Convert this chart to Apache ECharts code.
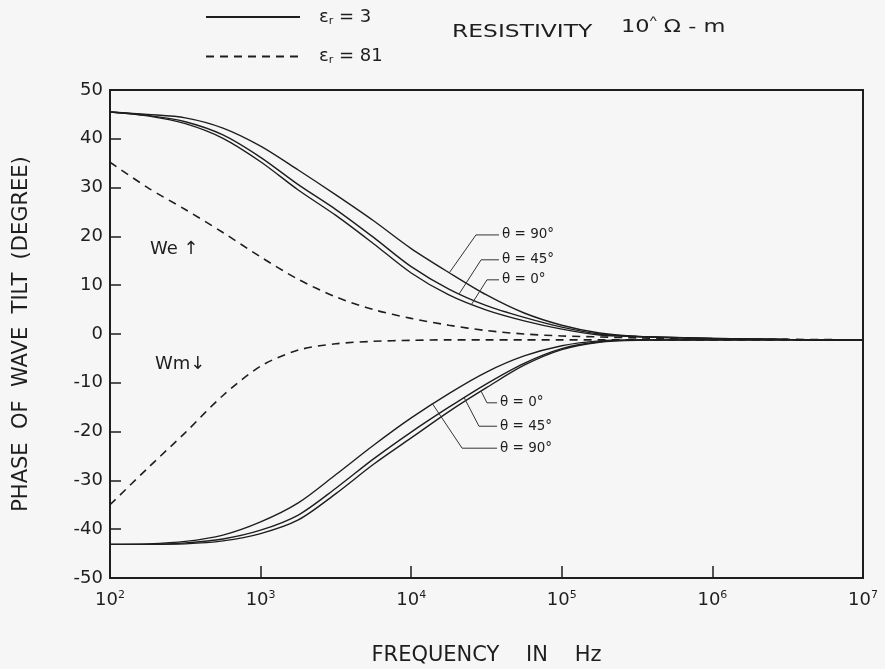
<!DOCTYPE html>
<html>
<head>
<meta charset="utf-8">
<script src="https://cdn.jsdelivr.net/npm/echarts@6/dist/echarts.min.js"></script>
<style>
html,body{margin:0;padding:0;background:#f6f6f6;}
#chart{width:885px;height:669px;}
</style>
</head>
<body>
<div id="chart"></div>
<script>
// frequency grid as log10(Hz)
const logF = [2.0, 2.25, 2.5, 2.75, 3.0, 3.25, 3.5, 3.75, 4.0, 4.25, 4.5, 4.75, 5.0, 5.25, 5.5, 6.0, 6.5, 7.0];
// eps_r = 3, W_e (upper bundle)
const up90 = [45.5, 45.0, 44.3, 42.2, 38.5, 33.6, 28.5, 23.2, 17.5, 12.6, 8.0, 4.3, 1.8, 0.2, -0.5, -0.9, -1.1, -1.2];
const up45 = [45.5, 44.8, 43.5, 40.8, 36.2, 30.6, 25.5, 19.8, 13.8, 9.2, 5.8, 3.4, 1.4, 0.0, -0.5, -0.9, -1.1, -1.2];
const up0  = [45.5, 44.7, 43.1, 40.1, 35.3, 29.5, 24.3, 18.5, 12.5, 8.0, 4.9, 2.7, 1.0, -0.2, -0.5, -0.9, -1.1, -1.2];
// eps_r = 3, W_m (lower bundle)
const lo90 = [-43.1, -43.0, -42.5, -41.2, -38.5, -34.6, -28.8, -22.8, -17.2, -12.2, -7.8, -4.5, -2.4, -1.4, -1.2, -1.2, -1.2, -1.3];
const lo45 = [-43.1, -43.1, -42.8, -42.0, -40.2, -37.1, -31.6, -25.6, -20.1, -15.0, -10.2, -6.0, -3.0, -1.6, -1.2, -1.2, -1.2, -1.3];
const lo0  = [-43.1, -43.1, -43.0, -42.4, -40.9, -38.1, -32.7, -26.7, -21.3, -15.9, -11.0, -6.4, -3.2, -1.7, -1.3, -1.2, -1.2, -1.3];
// eps_r = 81
const upDash = [35.2, 30.0, 25.5, 20.8, 15.8, 11.2, 7.6, 5.0, 3.2, 1.8, 0.7, 0.0, -0.4, -0.6, -0.8, -1.0, -1.1, -1.2];
const loDash = [-35.0, -27.5, -20.2, -12.6, -6.6, -3.3, -2.0, -1.5, -1.3, -1.2, -1.2, -1.2, -1.2, -1.2, -1.2, -1.2, -1.2, -1.2];
// axis ticks
const xTickExp = [2, 3, 4, 5, 6, 7];
const yTicks = [-50, -40, -30, -20, -10, 0, 10, 20, 30, 40, 50];
// leader annotations: [log10 f, degree] points, label text
const leaderLabels = ['θ = 90°', 'θ = 45°', 'θ = 0°', 'θ = 0°', 'θ = 45°', 'θ = 90°'];
const leaderPts = [
  [[4.252, 12.5], [4.430, 20.3], [4.583, 20.3]],
  [[4.318, 8.2], [4.464, 15.2], [4.583, 15.2]],
  [[4.397, 5.9], [4.503, 11.1], [4.583, 11.1]],
  [[4.464, -11.7], [4.503, -14.1], [4.570, -14.1]],
  [[4.351, -13.0], [4.450, -18.9], [4.570, -18.9]],
  [[4.139, -14.2], [4.338, -23.4], [4.570, -23.4]]
];

const FONT = 'DejaVu Sans';
const INK = '#1e1e1e';
const toPairs = arr => arr.map((v, i) => [Math.pow(10, logF[i]), v]);

function curve(name, arr, dashed) {
  return {
    name: name, type: 'line', data: toPairs(arr),
    symbol: 'none', smooth: 0.3, silent: true,
    lineStyle: { color: INK, width: dashed ? 1.6 : 1.4, type: dashed ? [8, 6] : 'solid' },
    itemStyle: { color: INK }, z: 3
  };
}

const series = [
  curve('εr = 3', up90), curve('εr = 3', up45), curve('εr = 3', up0),
  curve('εr = 3', lo90), curve('εr = 3', lo45), curve('εr = 3', lo0),
  curve('εr = 81', upDash, true), curve('εr = 81', loDash, true)
];
leaderPts.forEach((pts, i) => {
  series.push({
    name: 'leader' + i, type: 'line', symbol: 'none', silent: true,
    data: pts.map(p => [Math.pow(10, p[0]), p[1]]),
    lineStyle: { color: '#333', width: 1 },
    endLabel: { show: true, formatter: leaderLabels[i], distance: 3,
      fontFamily: FONT, fontSize: 13.5, color: INK },
    z: 4
  });
});

const chart = echarts.init(document.getElementById('chart'));
chart.setOption({
  backgroundColor: '#f6f6f6',
  animation: false,
  textStyle: { fontFamily: FONT },
  grid: { left: 110, right: 22, top: 90, bottom: 91, show: true, outerBoundsMode: 'none',
    containLabel: false, borderColor: INK, borderWidth: 2, backgroundColor: 'transparent' },
  legend: {
    data: ['εr = 3', 'εr = 81'], orient: 'vertical', left: 200, top: 3,
    icon: 'inherit',
    itemWidth: 94, itemHeight: 14, itemGap: 21, selectedMode: false,
    itemStyle: { opacity: 0 },
    formatter: n => n === 'εr = 3' ? 'ε{s|r} = 3' : 'ε{s|r} = 81',
    textStyle: { fontFamily: FONT, fontSize: 18, color: INK, padding: [0, 0, 0, 14],
      rich: { s: { fontSize: 11, verticalAlign: 'bottom', padding: [8, 0, 0, 0], fontFamily: FONT, color: INK } } }
  },
  xAxis: {
    type: 'log', logBase: 10, min: Math.pow(10, xTickExp[0]), max: Math.pow(10, xTickExp[xTickExp.length - 1]),
    name: 'FREQUENCY    IN    Hz', nameLocation: 'middle', nameGap: 67,
    nameTextStyle: { fontFamily: FONT, fontSize: 21, color: INK },
    axisLine: { onZero: false, lineStyle: { color: INK, width: 2 } },
    axisTick: { inside: true, length: 12, lineStyle: { color: INK, width: 1.5 } },
    minorTick: { show: false }, splitLine: { show: false },
    axisLabel: { margin: 12, fontFamily: FONT, fontSize: 18, color: INK,
      formatter: v => '10{p|' + Math.round(Math.log10(v)) + '}',
      rich: { p: { fontSize: 11, verticalAlign: 'top', padding: [0, 0, 10, 0], fontFamily: FONT, color: INK } } }
  },
  yAxis: {
    type: 'value', min: yTicks[0], max: yTicks[yTicks.length - 1], interval: 10,
    name: 'PHASE  OF  WAVE  TILT  (DEGREE)', nameLocation: 'middle', nameGap: 78, nameRotate: 90,
    nameTextStyle: { fontFamily: FONT, fontSize: 21, color: INK },
    axisLine: { lineStyle: { color: INK, width: 2 } },
    axisTick: { inside: true, length: 11, lineStyle: { color: INK, width: 1.5 } },
    splitLine: { show: false },
    axisLabel: { margin: 7, fontFamily: FONT, fontSize: 18, color: INK }
  },
  graphic: [
    { type: 'text', left: 452, top: 23, scaleX: 1.3, style: { text: 'RESISTIVITY', font: '18px "DejaVu Sans"', fill: INK } },
    { type: 'text', left: 621, top: 16, scaleX: 1.25, style: { text: '10{c|^} Ω - m', font: '18px "DejaVu Sans"', fill: INK,
      rich: { c: { fontSize: 12, verticalAlign: 'top', padding: [0, 0, 10, 0], fill: INK } } } },
    { type: 'text', left: 150, top: 240, style: { text: 'We ↑', font: '18px "DejaVu Sans"', fill: INK } },
    { type: 'text', left: 155, top: 355, style: { text: 'Wm↓', font: '18px "DejaVu Sans"', fill: INK } }
  ],
  series: series
});
</script>
</body>
</html>
